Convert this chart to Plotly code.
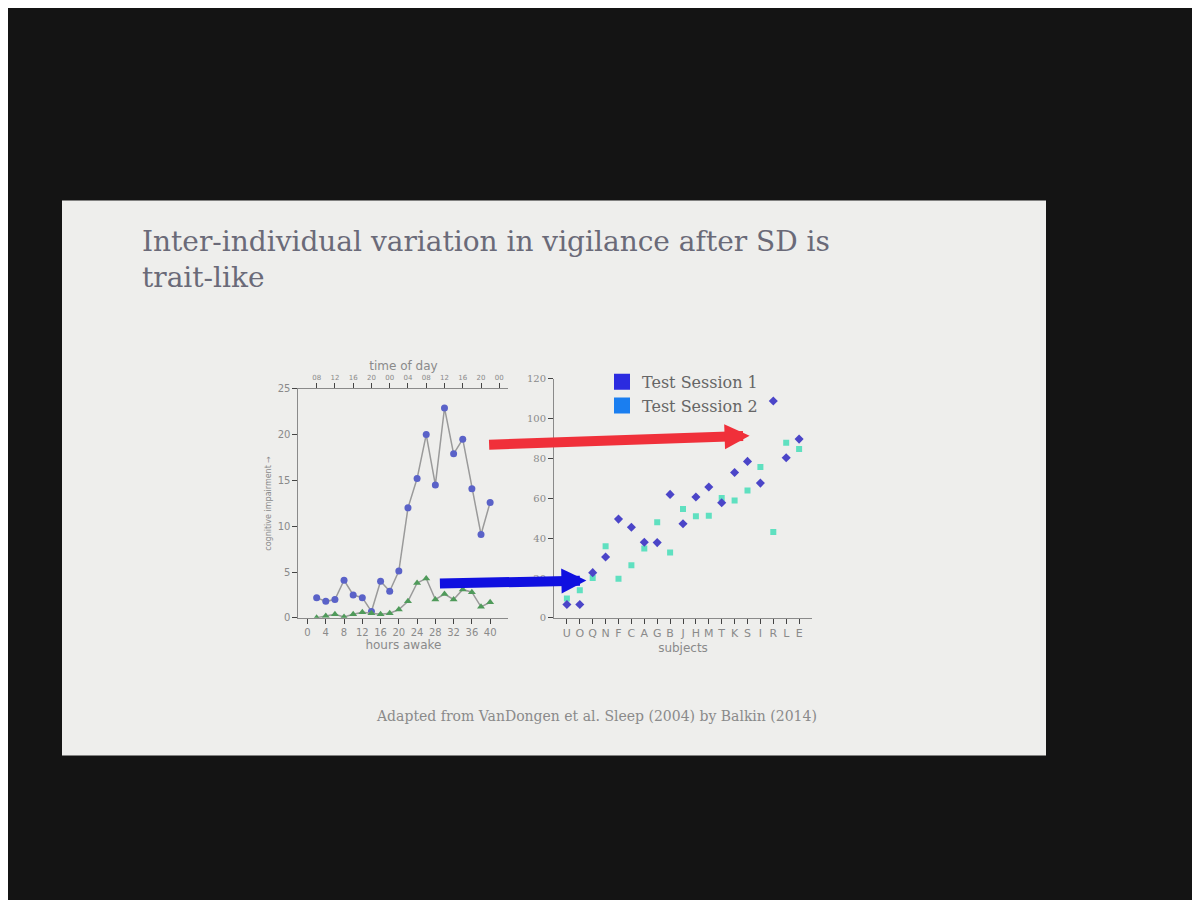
import plotly.graph_objects as go

# left panel: impairment vs hours awake
hours = [2, 4, 6, 8, 10, 12, 14, 16, 18, 20, 22, 24, 26, 28, 30, 32, 34, 36, 38, 40]
sd_group = [2.2, 1.8, 2.0, 4.1, 2.5, 2.2, 0.7, 4.0, 2.9, 5.1, 12.0, 15.2, 20.0, 14.5, 22.9, 17.9, 19.5, 14.1, 9.1, 12.6]
control_group = [0.0, 0.2, 0.4, 0.1, 0.4, 0.6, 0.5, 0.4, 0.5, 0.9, 1.8, 3.8, 4.3, 2.0, 2.6, 2.0, 3.1, 2.8, 1.2, 1.7]
time_of_day_vals = [2, 6, 10, 14, 18, 22, 26, 30, 34, 38, 42]
time_of_day_text = ['08', '12', '16', '20', '00', '04', '08', '12', '16', '20', '00']

# right panel: subjects, two sessions
subjects = ['U', 'O', 'Q', 'N', 'F', 'C', 'A', 'G', 'B', 'J', 'H', 'M', 'T', 'K', 'S', 'I', 'R', 'L', 'E']
session1 = [6.7, 6.7, 22.7, 30.6, 49.6, 45.5, 38, 37.8, 62, 47.3, 60.7, 65.7, 57.8, 73, 78.6, 67.7, 108.9, 80.4, 89.8]
session2 = [9.7, 13.9, 20, 36, 19.7, 26.4, 34.8, 48, 32.8, 54.7, 51, 51.3, 60.2, 59, 64, 75.8, 43.1, 88, 84.8]

grey = '#8a8a8a'
fig = go.Figure()

fig.add_trace(go.Scatter(x=hours, y=sd_group, mode='lines+markers', line=dict(color='#9a9a9a', width=1.5),
                         marker=dict(color='#5a62c8', size=7), showlegend=False, xaxis='x', yaxis='y'))
fig.add_trace(go.Scatter(x=hours, y=control_group, mode='lines+markers', line=dict(color='#9a9a9a', width=1.5),
                         marker=dict(color='#4f9a5a', size=7, symbol='triangle-up'), showlegend=False, xaxis='x', yaxis='y'))
# invisible trace for the top time-of-day axis
fig.add_trace(go.Scatter(x=[None], y=[None], showlegend=False, xaxis='x3', yaxis='y'))

fig.add_trace(go.Scatter(x=subjects, y=session2, mode='markers', marker=dict(color='#5fe0c0', size=6, symbol='square'),
                         showlegend=False, xaxis='x2', yaxis='y2'))
fig.add_trace(go.Scatter(x=subjects, y=session1, mode='markers', marker=dict(color='#4b45c8', size=7, symbol='diamond'),
                         showlegend=False, xaxis='x2', yaxis='y2'))
fig.add_trace(go.Scatter(x=[None], y=[None], mode='markers', name='Test Session 1',
                         marker=dict(color='#2b2be0', size=16, symbol='square'), xaxis='x2', yaxis='y2'))
fig.add_trace(go.Scatter(x=[None], y=[None], mode='markers', name='Test Session 2',
                         marker=dict(color='#1a7ef0', size=16, symbol='square'), xaxis='x2', yaxis='y2'))

ax_font = dict(family='DejaVu Sans', size=10, color=grey)
fig.update_layout(
    width=1200, height=900, margin=dict(l=0, r=0, t=0, b=0),
    paper_bgcolor='#141414', plot_bgcolor='rgba(0,0,0,0)',
    xaxis=dict(domain=[0.242, 0.417], range=[-2, 44], tickvals=list(range(0, 41, 4)), showgrid=False, zeroline=False,
               showline=True, mirror=True, linecolor=grey, ticks='outside', tickfont=ax_font,
               title=dict(text='hours awake', font=dict(family='DejaVu Sans', size=12, color=grey), standoff=2)),
    xaxis3=dict(overlaying='x', side='top', range=[-2, 44], tickvals=time_of_day_vals, ticktext=time_of_day_text,
                showgrid=False, zeroline=False, ticks='outside', tickfont=dict(family='DejaVu Sans', size=7, color=grey),
                title=dict(text='time of day', font=dict(family='DejaVu Sans', size=12, color=grey), standoff=0)),
    yaxis=dict(domain=[0.32, 0.578], range=[0, 25], tickvals=[0, 5, 10, 15, 20, 25], showgrid=False, zeroline=False,
               showline=True, linecolor=grey, ticks='outside', tickfont=ax_font, anchor='x',
               title=dict(text='cognitive impairment →', font=dict(family='DejaVu Sans', size=8, color=grey), standoff=4)),
    xaxis2=dict(domain=[0.455, 0.67], range=[-1, 19], tickvals=subjects, tickangle=0, showgrid=False, zeroline=False,
                showline=True, linecolor=grey, ticks='outside',
                tickfont=dict(family='DejaVu Sans', size=11, color=grey), anchor='y2',
                title=dict(text='subjects', font=dict(family='DejaVu Sans', size=12, color=grey), standoff=4)),
    yaxis2=dict(domain=[0.32, 0.589], range=[0, 120], tickvals=list(range(0, 121, 20)), showgrid=False, zeroline=False,
                showline=True, linecolor=grey, ticks='outside', anchor='x2',
                tickfont=dict(family='DejaVu Serif', size=10, color=grey)),
    legend=dict(x=0.495, y=0.605, xanchor='left', yanchor='top', bgcolor='rgba(0,0,0,0)',
                font=dict(family='DejaVu Serif', size=16, color='#666666'), tracegroupgap=0),
    shapes=[dict(type='rect', xref='paper', yref='paper', x0=0.045, x1=0.865, y0=0.165, y1=0.79,
                 fillcolor='#eeeeec', line=dict(width=0), layer='below')],
    annotations=[
        dict(text='Inter-individual variation in vigilance after SD is<br>trait-like', xref='paper', yref='paper',
             x=0.11, y=0.765, xanchor='left', yanchor='top', align='left', showarrow=False,
             font=dict(family='DejaVu Serif', size=28, color='#6a6a78')),
        dict(text='Adapted from VanDongen et al. Sleep (2004) by Balkin (2014)', xref='paper', yref='paper',
             x=0.49, y=0.198, showarrow=False, font=dict(family='DejaVu Serif', size=14, color='#8a8a8a')),
        dict(text='', xref='paper', yref='paper', x=0.618, y=0.525, ax=-262, ay=9, showarrow=True,
             arrowhead=2, arrowsize=0.5, arrowwidth=10, arrowcolor='#f0303a'),
        dict(text='', xref='paper', yref='paper', x=0.482, y=0.362, ax=-148, ay=3, showarrow=True,
             arrowhead=2, arrowsize=0.5, arrowwidth=10, arrowcolor='#1010e0'),
    ],
)

fig.write_html('out.html')
